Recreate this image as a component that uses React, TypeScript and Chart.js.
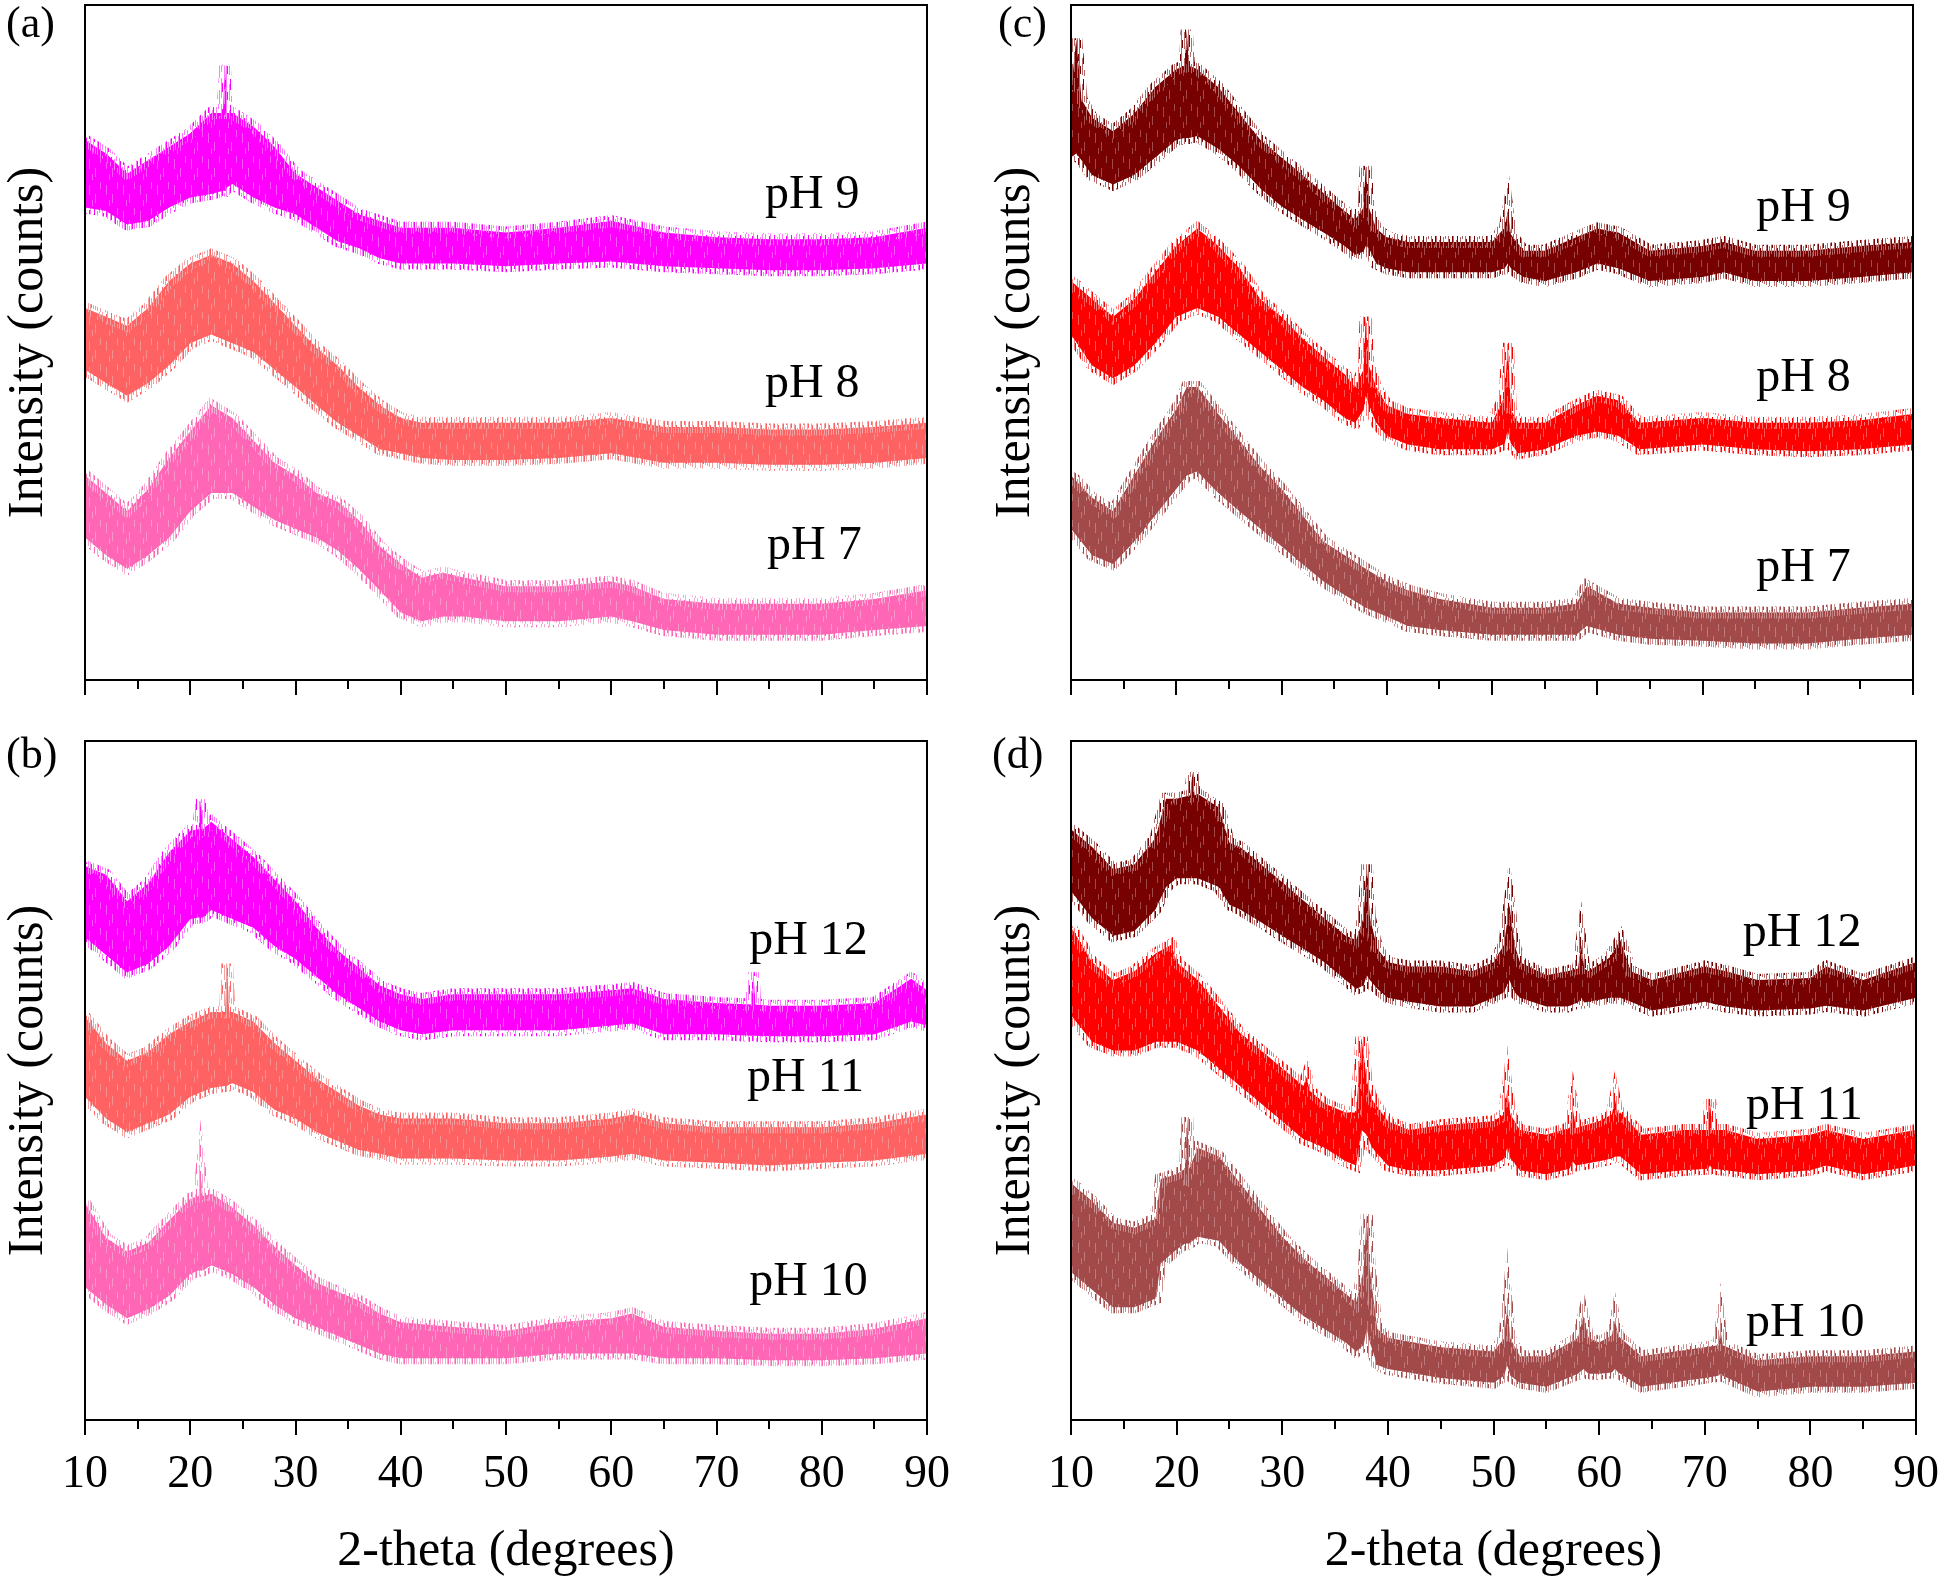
import React, { useEffect, useRef } from "react";
import { Chart, registerables } from "chart.js";

Chart.register(...registerables);

const FONT = "'Liberation Serif', 'Times New Roman', Times, serif";

// ---------- tick values ----------
const X_MAJOR = [10, 20, 30, 40, 50, 60, 70, 80, 90];
const X_MINOR = [15, 25, 35, 45, 55, 65, 75, 85];

// ---------- panel (a) ----------
const a9X = [10,12,14,16,18,20,22,23.1,23.3,23.5,24,26,28,30,32,34,36,38,40,45,50,55,60,65,70,75,80,85,90];
const a9Hi = [80,78,75,77,79,81,84,84,91,84,84,82,79,75,73,71,69,68,67,67,66.3,67,68,66.3,65.6,65.3,65.3,65.6,67];
const a9Lo = [70,69.5,67.5,68,70,71.5,72,72.5,72.5,73,73.5,71.5,70,69,67,65,64,62.5,61.7,61.7,61.3,61.7,62,61.3,61,60.7,60.7,61,61.7];

const a8X = [10,12,14,16,18,20,22,24,26,28,30,32,34,36,38,40,42,45,50,55,60,65,70,75,80,85,90];
const a8Hi = [55.1,53.8,52.5,55.1,59.1,61.7,63.0,61.7,59.1,55.8,52.5,49.2,46.6,43.4,40.7,38.8,38.1,38.1,38.1,38.1,38.8,37.5,37.5,37.1,37.1,37.5,38.1];
const a8Lo = [46.0,44.0,42.1,44.0,46.6,49.9,51.2,49.9,48.6,46.0,43.4,40.7,38.1,36.2,34.2,33.6,32.9,32.6,32.6,32.9,33.6,32.2,32.2,31.9,31.9,32.2,32.9];

const a7X = [10,12,14,16,18,20,22,24,26,28,30,32,34,36,38,40,42,44,46,50,55,60,62,65,70,75,80,85,90];
const a7Hi = [30.3,27.7,25.0,28.3,32.9,36.8,40.7,38.8,35.5,32.2,30.3,27.7,26.4,23.7,19.8,17.2,15.2,15.9,15.2,13.9,13.9,14.6,13.9,12.0,11.3,11.3,11.3,12.0,13.3];
const a7Lo = [21.1,18.5,16.5,18.5,21.1,25.0,27.7,27.7,25.7,23.7,22.4,21.1,19.2,16.5,13.3,10.0,8.7,9.4,9.4,8.7,8.7,9.4,8.7,7.4,6.7,6.7,6.7,7.4,8.0];

// ---------- panel (b) ----------
const b12X = [10,12,14,16,18,20,20.8,21,21.2,22,24,26,28,30,32,34,36,38,40,42,45,50,55,60,62,65,70,73.3,73.5,73.7,75,80,85,88.5,90];
const b12Hi = [81.6,80.3,76.4,79.0,83.6,86.8,87,91.4,87,88.1,85.5,82.9,79.6,76.4,72.5,69.2,66.6,64.0,62.7,62.0,62.7,62.7,62.7,63.3,63.6,62.0,61.4,61.2,65.9,61.2,61.0,61.0,61.4,65.0,63.3];
const b12Lo = [71.1,68.5,65.9,67.2,69.8,73.8,74,74,74,75.1,73.8,72.5,69.8,67.9,65.3,62.7,60.7,58.7,57.4,56.8,57.4,57.4,57.4,58.1,58.4,56.8,56.8,56.6,56.6,56.6,56.5,56.5,56.8,58.7,58.1];

const b11X = [10,12,14,16,18,20,22,23.3,23.5,23.7,24,26,28,30,32,34,36,38,40,45,50,55,60,62,65,70,75,80,85,90];
const b11Hi = [59.4,55.5,52.9,54.2,56.8,58.7,60.1,60.1,67.2,60.1,60.1,58.7,55.5,52.9,50.3,48.3,46.3,45.0,44.4,44.4,43.7,43.7,44.4,45.0,43.7,43.1,43.1,43.1,43.7,45.0];
const b11Lo = [47.6,44.4,42.4,43.7,45.0,47.6,48.9,49.2,49.2,49.4,49.6,48.3,45.7,44.4,42.4,41.1,39.8,39.2,38.5,38.5,38.2,38.2,38.8,39.2,38.2,37.9,37.5,37.9,38.2,39.2];

const b10X = [10,12,14,16,18,20,20.8,21,21.2,22,24,26,28,30,32,34,36,38,40,45,50,55,60,62,65,70,75,80,85,90];
const b10Hi = [32.0,26.8,24.8,26.1,29.4,32.6,33,35.9,33,33.3,31.3,28.7,25.5,22.8,20.2,18.9,17.6,15.7,14.4,13.7,13.1,14.4,15.0,15.7,13.7,13.1,12.7,12.7,13.4,15.0];
const b10Lo = [19.6,17.0,15.0,16.3,18.3,21.5,22,22,22,22.8,21.5,19.6,17.0,15.0,13.7,12.4,11.1,9.8,9.1,9.1,9.1,9.8,9.8,9.8,9.1,9.1,8.8,8.8,9.1,9.8];

// ---------- panel (c) ----------
const c9X = [10,10.5,11,12,14,16,18,20,20.8,21,21.2,22,24,26,28,30,32,34,36,37,37.8,38,38.3,39,40,42,45,50,51.2,51.5,51.8,53,55,58,60,62,65,70,72,75,80,85,90];
const c9Hi = [87.2,95.0,86,83.3,81.3,83.9,87.8,90.5,91,96.3,91,90.5,87.8,83.9,80.0,77.4,74.8,72.1,69.5,68.2,70,76.1,70,66.9,65.6,64.9,64.9,64.9,67,69.5,66,63.6,63.6,65.6,66.9,66.3,63.6,64.3,64.9,63.6,63.6,64.3,64.9];
const c9Lo = [77.4,78,77,74.8,73.4,74.8,77.4,80.0,80.3,80.3,80.3,80.6,78.7,76.1,72.8,70.2,68.2,66.3,64.3,63.0,63.5,64.3,64,61.7,61.0,60.4,60.4,60.4,61,61.7,61,59.7,59.1,60.4,61.7,61.0,59.1,59.7,60.4,59.1,59.1,59.7,60.4];

const c8X = [10,12,14,16,18,20,22,24,26,28,30,32,34,36,37,37.8,38,38.3,39,40,42,45,50,51.2,51.5,51.8,52.5,55,58,60,62,64,70,75,80,85,90];
const c8Hi = [59.1,56.4,53.8,56.4,60.4,64.3,66.9,64.3,61.0,56.4,53.8,50.6,47.9,45.3,43.4,46,53.8,46.6,43.4,40.7,39.4,38.8,38.1,42,49.9,40,38.1,38.1,40.7,42.1,41.4,38.1,38.8,38.1,38.1,38.5,39.4];
const c8Lo = [51.2,46.6,44.7,46.6,49.9,53.8,55.1,53.8,51.2,48.6,46.0,43.4,41.4,38.8,38.1,40,42.1,40.7,38.1,36.2,34.9,34.2,34.2,35,36.8,35,33.6,34.2,36.2,36.8,36.2,34.2,34.9,34.2,33.9,34.2,34.9];

const c7X = [10,12,14,16,18,20,21,22,24,26,28,30,32,34,36,38,40,42,45,50,55,58,59,62,65,70,75,80,85,90];
const c7Hi = [30.3,27.0,25.0,30.3,35.5,40.1,43.4,43.4,39.4,35.5,31.6,28.3,24.4,20.5,18.5,16.5,14.6,13.3,12.0,10.7,10.7,11.3,13.9,11.3,10.7,10.0,10.0,10.0,10.7,11.3];
const c7Lo = [22.4,18.5,17.2,20.5,24.4,28.3,30.3,30.9,27.7,25.0,22.4,19.8,17.2,14.6,12.6,10.7,9.4,8.0,7.4,6.7,6.7,6.7,8.0,6.7,6.1,5.8,5.4,5.4,6.1,6.7];

// ---------- panel (d) ----------
const d12X = [10,12,14,16,18,19,20,21.3,21.5,21.7,22,24,25,26,28,30,32,34,36,37,37.7,38,38.3,39,40,42,45,48,50,51,51.5,52,52.5,55,57,58,58.3,58.6,59,61,62,63,65,70,72,75,80,81.5,85,90];
const d12Hi = [87.0,84.4,81.1,81.8,85.7,91.5,91.5,92,95.4,92,92.2,90.2,85.0,84.4,81.8,79.2,76.5,73.9,71.3,70.7,74,81.8,74,69.4,67.4,66.8,66.8,66.1,67.4,70,75.9,70,67.4,65.5,66.1,66.5,70.0,66.5,66.1,68.1,70.7,66.1,64.8,66.8,66.1,64.8,65.1,66.8,64.8,67.4];
const d12Lo = [77.9,73.9,71.3,72.0,75.2,78.5,79.8,79.8,79.8,79.8,79.8,78.5,75.9,75.2,73.3,71.3,69.4,67.4,64.8,63.5,64,65.5,64.8,63.5,62.2,61.6,60.9,60.9,62.2,63,64.8,63,62.2,60.9,60.9,61.5,62.2,61.5,61.6,62.2,62.2,61.6,60.3,61.6,60.9,60.3,60.6,61.0,60.3,62.2];

const d11X = [10,12,14,16,18,19.5,20,22,24,26,28,30,32,32.3,32.6,34,36,37,37.5,38,38.5,40,42,45,50,51,51.3,51.6,52.5,55,57.2,57.5,57.8,60,61.2,61.5,61.8,62,64,68,70.3,70.5,70.7,72,75,80,81.5,85,90];
const d11Hi = [72.6,67.4,64.8,66.1,68.7,70.0,67.4,64.8,60.9,57.0,54.4,51.8,49.2,50.5,48.5,46.6,45.3,45.3,56.4,50,47.2,44.0,42.7,43.4,44.0,45,48.5,45,42.7,42.0,43,45.9,43,44.0,45,47.2,45,45.3,42.0,42.7,42.7,47.2,42.7,42.7,41.4,42.0,42.7,41.4,42.7];
const d11Lo = [59.6,55.7,54.4,54.4,55.7,55.7,55.7,54.4,51.8,49.2,46.6,44.0,41.4,41.2,41,40.1,38.1,37.5,42.7,42,40.1,37.5,36.8,36.8,37.5,38.5,40.1,38.5,36.8,36.2,37,38.1,37.5,38.1,38.5,38.8,38.8,38.8,36.2,36.8,37,37.5,37,36.8,36.2,36.8,37.5,36.2,37.5];

const d10X = [10,12,14,16,18,18.5,20,20.8,21,21.2,22,24,26,28,30,32,34,36,37,37.7,38,38.3,39,40,45,50,51,51.3,51.6,52.5,55,58,58.5,59,60,61.2,61.5,61.8,62,64,70,71.3,71.5,71.7,75,80,85,90];
const d10Hi = [34.9,32.2,29.0,28.3,29.6,35.5,36.2,37,44.6,37,40.1,38.8,34.9,30.9,27.0,23.8,21.2,18.6,17.3,22,30.3,22,13.4,12.1,10.7,10.1,12,16.6,12,9.4,9.4,12.1,15.3,12.1,11.4,12.5,14.7,12.5,12.1,9.4,10.7,11,13.4,11,8.8,9.4,9.4,10.1];
const d10Lo = [21.8,19.2,16.6,16.6,17.9,23.1,25.1,26,26,26,27.0,26.4,23.1,20.5,17.9,15.3,13.4,11.4,10.1,11,13.4,11.4,8.1,7.5,6.2,5.5,6.5,8.1,6.5,5.5,4.9,6.8,7.5,6.8,6.8,7,7.5,7,6.8,4.9,6.2,6.5,6.8,6.5,4.2,4.9,4.9,5.5];

// ---------- styles ----------
type Style = { base: string; tint: string };
const MAGENTA: Style = { base: "#ff00ff", tint: "#ff7cff" };
const SALMON: Style = { base: "#ff6262", tint: "#f2a2a2" };
const PINK: Style = { base: "#ff66b6", tint: "#f7abd2" };
const MAROON: Style = { base: "#770000", tint: "#b56a6a" };
const RED: Style = { base: "#ff0000", tint: "#ff7878" };
const BROWN: Style = { base: "#a24a4a", tint: "#cc9090" };

// texture tile for the noisy look: [start, length, 0 = tint / 1 = base] per pixel column
const TILE_W = 17;
const TILE_H = 26;
const EDGE_COLS: number[][] = [
  [0, 20, 0], [5, 9, 1], [0, 0, 0], [11, 15, 0], [2, 7, 1], [0, 26, 0], [14, 8, 1], [0, 0, 0], [6, 17, 0],
  [1, 11, 1], [18, 6, 0], [0, 0, 0], [3, 22, 0], [9, 12, 1], [0, 5, 0], [12, 14, 0], [0, 0, 0],
];
const FILL_STREAKS: number[][] = [
  [4, 3, 10], [10, 12, 9], [15, 0, 7], [7, 18, 6],
];

function makeEdgePattern(ctx: CanvasRenderingContext2D, st: Style) {
  const c = document.createElement("canvas");
  c.width = TILE_W;
  c.height = TILE_H;
  const g = c.getContext("2d")!;
  EDGE_COLS.forEach(([s, l, k], i) => {
    if (!l) return;
    g.fillStyle = k ? st.base : st.tint;
    g.fillRect(i, s, 1, Math.min(l, TILE_H - s));
    if (s + l > TILE_H) g.fillRect(i, 0, 1, s + l - TILE_H);
  });
  return ctx.createPattern(c, "repeat");
}

function makeFillPattern(ctx: CanvasRenderingContext2D, st: Style) {
  const c = document.createElement("canvas");
  c.width = TILE_W;
  c.height = TILE_H;
  const g = c.getContext("2d")!;
  g.fillStyle = st.base;
  g.fillRect(0, 0, TILE_W, TILE_H);
  g.fillStyle = st.tint;
  g.globalAlpha = 0.7;
  FILL_STREAKS.forEach(([i, s, l]) => g.fillRect(i, s, 1, l));
  return ctx.createPattern(c, "repeat");
}

type Series = { name: string; style: Style; x: number[]; hi: number[]; lo: number[]; lx: number; ly: number };
type PanelCfg = {
  letter: string; left: number; top: number; w: number; h: number;
  area: { l: number; t: number; r: number; b: number };
  tickLabels: boolean; xTitle: boolean; yTitleX: number; letterX: number; letterY: number;
  series: Series[];
};

const PANELS: PanelCfg[] = [
  {
    letter: "(a)", left: 0, top: 0, w: 972, h: 720,
    area: { l: 85, t: 5, r: 927, b: 680 }, tickLabels: false, xTitle: false, yTitleX: 29, letterX: 6, letterY: 25,
    series: [
      { name: "pH 9", style: MAGENTA, x: a9X, hi: a9Hi, lo: a9Lo, lx: 74.6, ly: 71.8 },
      { name: "pH 8", style: SALMON, x: a8X, hi: a8Hi, lo: a8Lo, lx: 74.6, ly: 43.8 },
      { name: "pH 7", style: PINK, x: a7X, hi: a7Hi, lo: a7Lo, lx: 74.8, ly: 19.8 },
    ],
  },
  {
    letter: "(c)", left: 972, top: 0, w: 972, h: 720,
    area: { l: 99, t: 5, r: 941, b: 680 }, tickLabels: false, xTitle: false, yTitleX: 44, letterX: 26, letterY: 25,
    series: [
      { name: "pH 9", style: MAROON, x: c9X, hi: c9Hi, lo: c9Lo, lx: 75.1, ly: 69.8 },
      { name: "pH 8", style: RED, x: c8X, hi: c8Hi, lo: c8Lo, lx: 75.1, ly: 44.7 },
      { name: "pH 7", style: BROWN, x: c7X, hi: c7Hi, lo: c7Lo, lx: 75.1, ly: 16.5 },
    ],
  },
  {
    letter: "(b)", left: 0, top: 720, w: 972, h: 863,
    area: { l: 85, t: 21, r: 927, b: 700 }, tickLabels: true, xTitle: true, yTitleX: 29, letterX: 6, letterY: 36,
    series: [
      { name: "pH 12", style: MAGENTA, x: b12X, hi: b12Hi, lo: b12Lo, lx: 73.1, ly: 70.5 },
      { name: "pH 11", style: SALMON, x: b11X, hi: b11Hi, lo: b11Lo, lx: 72.9, ly: 50.3 },
      { name: "pH 10", style: PINK, x: b10X, hi: b10Hi, lo: b10Lo, lx: 73.1, ly: 20.2 },
    ],
  },
  {
    letter: "(d)", left: 972, top: 720, w: 972, h: 863,
    area: { l: 99, t: 21, r: 944, b: 700 }, tickLabels: true, xTitle: true, yTitleX: 44, letterX: 20, letterY: 36,
    series: [
      { name: "pH 12", style: MAROON, x: d12X, hi: d12Hi, lo: d12Lo, lx: 73.6, ly: 71.6 },
      { name: "pH 11", style: RED, x: d11X, hi: d11Hi, lo: d11Lo, lx: 73.9, ly: 46.2 },
      { name: "pH 10", style: BROWN, x: d10X, hi: d10Hi, lo: d10Lo, lx: 73.9, ly: 14.3 },
    ],
  },
];

function Panel({ cfg }: { cfg: PanelCfg }) {
  const ref = useRef<HTMLCanvasElement | null>(null);
  useEffect(() => {
    const canvas = ref.current;
    if (!canvas) return;
    const ctx0 = canvas.getContext("2d")!;
    const datasets: any[] = [];
    cfg.series.forEach((s) => {
      const edge = makeEdgePattern(ctx0, s.style);
      const fillPat = makeFillPattern(ctx0, s.style);
      datasets.push({
        label: s.name + " upper",
        data: s.x.map((x, i) => ({ x, y: s.hi[i] })),
        borderColor: edge,
        backgroundColor: fillPat,
        borderWidth: 12,
        fill: "+1",
        pointRadius: 0,
        tension: 0,
      });
      datasets.push({
        label: s.name + " lower",
        data: s.x.map((x, i) => ({ x, y: s.lo[i] })),
        borderColor: edge,
        backgroundColor: fillPat,
        borderWidth: 12,
        fill: false,
        pointRadius: 0,
        tension: 0,
      });
    });

    const decor = {
      id: "decor",
      afterDraw(chart: any) {
        const { ctx, chartArea } = chart;
        const xs = chart.scales.x;
        const ys = chart.scales.y;
        ctx.save();
        ctx.strokeStyle = "#000";
        ctx.lineWidth = 2;
        ctx.strokeRect(chartArea.left, chartArea.top, chartArea.right - chartArea.left, chartArea.bottom - chartArea.top);
        ctx.beginPath();
        X_MAJOR.forEach((v) => {
          const px = Math.round(xs.getPixelForValue(v));
          ctx.moveTo(px, chartArea.bottom);
          ctx.lineTo(px, chartArea.bottom + 15);
        });
        X_MINOR.forEach((v) => {
          const px = Math.round(xs.getPixelForValue(v));
          ctx.moveTo(px, chartArea.bottom);
          ctx.lineTo(px, chartArea.bottom + 9);
        });
        ctx.stroke();
        ctx.fillStyle = "#000";
        ctx.font = `48px ${FONT}`;
        ctx.textAlign = "left";
        ctx.textBaseline = "middle";
        cfg.series.forEach((s) => {
          ctx.fillText(s.name, xs.getPixelForValue(s.lx), ys.getPixelForValue(s.ly));
        });
        ctx.font = `44px ${FONT}`;
        ctx.fillText(cfg.letter, cfg.letterX, cfg.letterY);
        ctx.restore();
      },
    };

    const chart = new Chart(canvas, {
      type: "line",
      data: { datasets },
      plugins: [decor],
      options: {
        responsive: false,
        animation: false,
        devicePixelRatio: 1,
        events: [],
        layout: { padding: { left: 0, top: cfg.area.t, right: cfg.w - cfg.area.r, bottom: 0 } },
        plugins: { legend: { display: false }, tooltip: { enabled: false } },
        scales: {
          x: {
            type: "linear",
            min: 10,
            max: 90,
            grid: { display: false, drawTicks: false },
            border: { display: false },
            afterBuildTicks: (s: any) => {
              s.ticks = X_MAJOR.map((v) => ({ value: v }));
            },
            ticks: {
              display: cfg.tickLabels,
              autoSkip: false,
              maxRotation: 0,
              padding: 27,
              color: "#000",
              font: { family: FONT, size: 46 },
            },
            title: {
              display: cfg.xTitle,
              text: "2-theta (degrees)",
              color: "#000",
              font: { family: FONT, size: 50, lineHeight: 1 },
              padding: { top: 0, bottom: 6 },
            },
            afterFit: (s: any) => {
              s.height = cfg.h - cfg.area.b;
              s.paddingLeft = 0;
              s.paddingRight = 0;
            },
          },
          y: {
            type: "linear",
            min: 0,
            max: 100,
            grid: { display: false, drawTicks: false },
            border: { display: false },
            ticks: { display: false },
            title: {
              display: true,
              text: "Intensity (counts)",
              color: "#000",
              font: { family: FONT, size: 50, lineHeight: 1 },
              padding: { top: cfg.yTitleX - 25, bottom: 0 },
            },
            afterFit: (s: any) => {
              s.width = cfg.area.l;
              s.paddingTop = 0;
              s.paddingBottom = 0;
            },
          },
        },
      } as any,
    });
    return () => chart.destroy();
  }, [cfg]);
  return (
    <canvas
      ref={ref}
      width={cfg.w}
      height={cfg.h}
      style={{ position: "absolute", left: cfg.left, top: cfg.top, width: cfg.w, height: cfg.h }}
    />
  );
}

export default function App() {
  return (
    <div style={{ position: "absolute", left: 0, top: 0, width: 1944, height: 1583, background: "#fff", overflow: "hidden" }}>
      {PANELS.map((p) => (
        <Panel key={p.letter} cfg={p} />
      ))}
    </div>
  );
}
